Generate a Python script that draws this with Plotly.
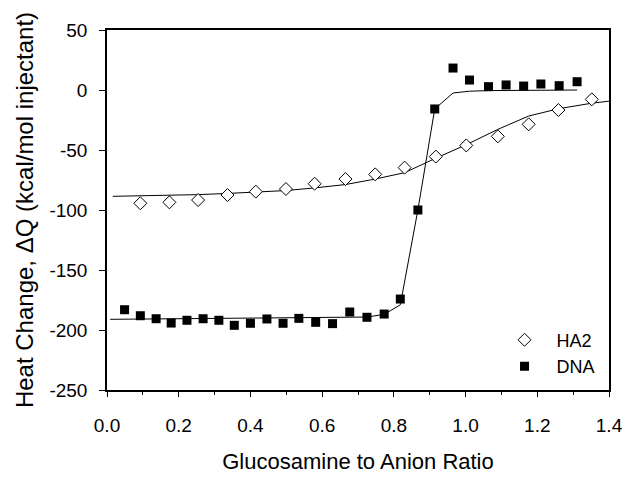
import plotly.graph_objects as go

# ---- data ----
ha2_x = [0.093, 0.174, 0.254, 0.336, 0.415, 0.499, 0.579, 0.665, 0.748, 0.830,
         0.917, 1.002, 1.090, 1.176, 1.259, 1.352]
ha2_y = [-94.4, -93.6, -91.7, -87.5, -84.7, -82.5, -78.1, -74.2, -70.3, -64.7,
         -55.5, -46.2, -38.6, -28.6, -16.7, -7.8]

dna_x = [0.049, 0.093, 0.137, 0.179, 0.223, 0.268, 0.312, 0.355, 0.400, 0.446,
         0.491, 0.535, 0.582, 0.629, 0.677, 0.725, 0.773, 0.818, 0.867, 0.914,
         0.965, 1.011, 1.064, 1.113, 1.162, 1.210, 1.261, 1.311]
dna_y = [-183.1, -188.1, -190.6, -194.2, -191.9, -190.6, -191.9, -196.1, -194.4, -190.8,
         -194.4, -190.3, -193.6, -194.7, -185.0, -189.4, -186.7, -174.2, -100.0, -15.8,
         18.3, 8.3, 2.8, 4.2, 3.3, 5.0, 3.6, 6.9]

ha2_fit_x = [0.016, 0.093, 0.174, 0.254, 0.336, 0.415, 0.499, 0.579, 0.665, 0.748,
             0.830, 0.917, 1.002, 1.090, 1.176, 1.259, 1.352, 1.40]
ha2_fit_y = [-88.6, -88.3, -87.9, -87.2, -86.2, -85.2, -83.8, -81.6, -78.8, -74.2,
             -68.9, -56.8, -45.6, -32.8, -21.7, -15.6, -11.0, -9.3]

dna_fit_x = [0.009, 0.1, 0.2, 0.3, 0.4, 0.5, 0.6, 0.677, 0.725, 0.773, 0.818,
             0.867, 0.914, 0.965, 1.011, 1.064, 1.113, 1.162, 1.210, 1.261, 1.311]
dna_fit_y = [-191.1, -190.9, -190.7, -190.5, -190.3, -190.1, -189.9, -189.6, -189.2,
             -187.0, -179.0, -100.0, -15.8, -2.5, -1.0, -0.5, -0.3, -0.2, -0.1, 0.0, 0.0]

x_tickvals = [0.0, 0.2, 0.4, 0.6, 0.8, 1.0, 1.2, 1.4]
x_ticktext = ["0.0", "0.2", "0.4", "0.6", "0.8", "1.0", "1.2", "1.4"]
y_tickvals = [50, 0, -50, -100, -150, -200, -250]
y_ticktext = ["50", "0", "-50", "-100", "-150", "-200", "-250"]

x_title = "Glucosamine to Anion Ratio"
y_title = "Heat Change, \u0394Q (kcal/mol injectant)"

FONT = "Liberation Sans, Arial, sans-serif"

fig = go.Figure()
fig.add_trace(go.Scatter(x=ha2_fit_x, y=ha2_fit_y, mode="lines",
                         line=dict(color="black", width=1), showlegend=False, hoverinfo="skip"))
fig.add_trace(go.Scatter(x=dna_fit_x, y=dna_fit_y, mode="lines",
                         line=dict(color="black", width=1), showlegend=False, hoverinfo="skip"))
fig.add_trace(go.Scatter(x=ha2_x, y=ha2_y, mode="markers", name="HA2",
                         marker=dict(symbol="diamond", size=10, color="white",
                                     line=dict(color="black", width=1))))
fig.add_trace(go.Scatter(x=dna_x, y=dna_y, mode="markers", name="DNA",
                         marker=dict(symbol="square", size=9, color="black",
                                     line=dict(color="black", width=0))))

fig.update_layout(
    width=622, height=477,
    margin=dict(l=107, r=13, t=30, b=87),
    paper_bgcolor="white", plot_bgcolor="white",
    font=dict(family=FONT, size=19, color="black"),
    showlegend=True,
    legend=dict(x=0.768, y=0.19, xanchor="left", yanchor="top",
                bgcolor="rgba(0,0,0,0)", borderwidth=0,
                font=dict(size=18), itemwidth=54, tracegroupgap=0),
    xaxis=dict(range=[0, 1.4], tickvals=x_tickvals, ticktext=x_ticktext,
               showgrid=False, zeroline=False, automargin=False,
               ticklabeloverflow="allow",
               showline=True, linecolor="black", linewidth=1.5, mirror=True,
               ticks="outside", ticklen=5, tickwidth=1, tickcolor="black",
               ticklabelstandoff=12,
               minor=dict(dtick=0.1, tick0=0, ticks="outside", ticklen=3.5, tickwidth=1,
                          tickcolor="black", showgrid=False),
               title=dict(text=x_title, font=dict(size=22), standoff=19)),
    yaxis=dict(range=[-250, 50], tickvals=y_tickvals, ticktext=y_ticktext,
               showgrid=False, zeroline=False, automargin=False,
               ticklabeloverflow="allow",
               showline=True, linecolor="black", linewidth=1.5, mirror=True,
               ticks="outside", ticklen=6, tickwidth=1, tickcolor="black",
               ticklabelstandoff=8,
               title=dict(text=y_title, font=dict(size=24), standoff=9)),
)

fig.write_html("out.html")
